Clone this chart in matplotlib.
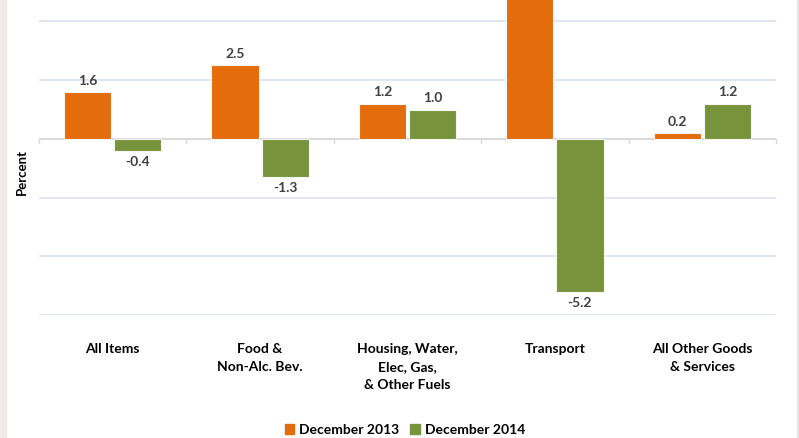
import numpy as np
import matplotlib
matplotlib.use("Agg")
import matplotlib.pyplot as plt
from matplotlib.patches import Rectangle

plt.rcParams['font.family'] = ['Lato', 'DejaVu Sans']

categories = ["All Items", "Food &\nNon-Alc. Bev.", "Housing, Water,\nElec, Gas,\n& Other Fuels",
              "Transport", "All Other Goods\n& Services"]
series_names = ["December 2013", "December 2014"]
dec_2013 = [1.6, 2.5, 1.2, 6.5, 0.2]
dec_2014 = [-0.4, -1.3, 1.0, -5.2, 1.2]

ORANGE = '#E46C0A'
GREEN = '#77933C'
GRID = '#D9E1F2'
Y_LIM = (-6, 4.73)

fig = plt.figure(figsize=(7.99, 4.38), dpi=100)
# light gray strips at the screenshot edges
fig.patches.append(Rectangle((0, 0), 6 / 799, 1, transform=fig.transFigure,
                             color='#EFEBE9', zorder=0))
fig.patches.append(Rectangle((797 / 799, 0), 2 / 799, 1, transform=fig.transFigure,
                             color='#E6E6E6', zorder=0))

ax = fig.add_axes([39 / 799, 1 - 315 / 438, 737 / 799, 315 / 438])
x = np.arange(len(categories))
w = 0.32
off = 0.17

for vals, dx, col in [(dec_2013, -off, ORANGE), (dec_2014, off, GREEN)]:
    bars = ax.bar(x + dx, vals, width=w, color=col, edgecolor='#F4F4F4',
                  linewidth=0.8, zorder=3)
    for b, v in zip(bars, vals):
        y = v + 0.18 if v >= 0 else v - 0.18
        if not (Y_LIM[0] < y < Y_LIM[1]):
            continue  # label falls outside the visible (cropped) area
        ax.text(b.get_x() + b.get_width() / 2, y, f"{v:.1f}",
                ha='center', va='bottom' if v >= 0 else 'top',
                fontsize=10, fontweight='bold', color='#404040', zorder=4)

ax.set_xlim(-0.5, len(categories) - 0.5)
ax.set_ylim(*Y_LIM)
ax.set_yticks([-6, -4, -2, 2, 4])
ax.yaxis.grid(True, color=GRID, linewidth=1.2, zorder=0)
ax.tick_params(left=False, labelleft=False, bottom=False, labelbottom=False)
for s in ax.spines.values():
    s.set_visible(False)

# zero axis line with category boundary ticks
ax.axhline(0, color='#D9D9D9', linewidth=1.4, zorder=2)
for b in np.arange(len(categories) + 1) - 0.5:
    ax.plot([b, b], [0, -0.15], color='#D9D9D9', linewidth=1.0, zorder=2,
            clip_on=False)

for xi, lab in zip(x, categories):
    ax.text(xi, -6.95, lab, ha='center', va='top', fontsize=10,
            fontweight='bold', color='black', linespacing=1.62)

fig.text(22 / 799, 1 - 172 / 438, "Percent", rotation=90, ha='center', va='center',
         fontsize=9.5, fontweight='bold')

handles = [Rectangle((0, 0), 1, 1, color=ORANGE), Rectangle((0, 0), 1, 1, color=GREEN)]
fig.legend(handles, series_names, loc='center', bbox_to_anchor=(405 / 799, 1 - 430 / 438),
           ncol=2, frameon=False, prop={'weight': 'bold', 'size': 10},
           handlelength=0.7, handleheight=0.7, handletextpad=0.35, columnspacing=0.8)

fig.savefig("out.png", dpi=100)
